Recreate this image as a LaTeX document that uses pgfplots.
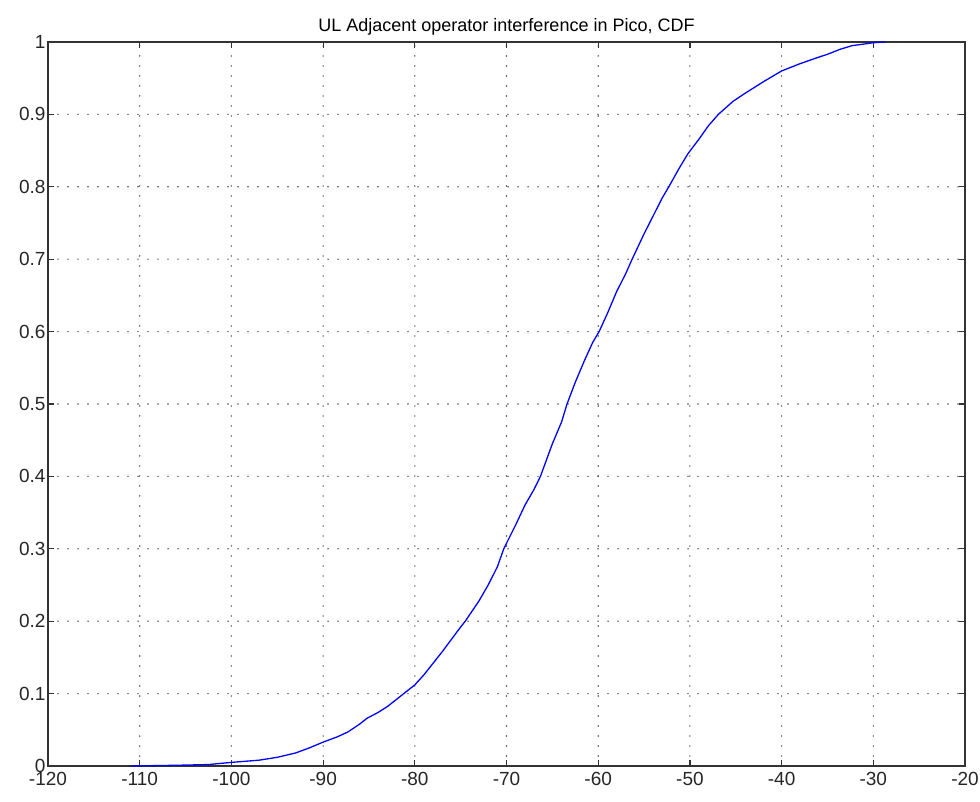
\documentclass[border=0pt]{standalone}
\usepackage{pgfplots}
\pgfplotsset{compat=1.18}
\usepackage{fontspec}
\setmainfont{Liberation Sans}
\begin{document}
\begin{tikzpicture}
\path[use as bounding box] (-48pt,-35pt) rectangle (932pt,766pt);
\begin{axis}[
  width=917pt, height=724pt, scale only axis,
  xmin=-120, xmax=-20, ymin=0, ymax=1,
  xtick={-120,-110,...,-20},
  ytick={0,0.1,...,1},
  yticklabels={0,0.1,0.2,0.3,0.4,0.5,0.6,0.7,0.8,0.9,1},
  tick align=inside, tick pos=both,
  major tick length=6pt,
  every tick/.style={black!80, line width=1.2pt},
  axis line style={black!80, line width=1.4pt},
  grid=major,
  major grid style={black!70, line width=1.6pt, line cap=round, dash pattern=on 0pt off 10pt},
  /pgf/number format/assume math mode=true,
  ticklabel style={font=\fontsize{19}{22}\selectfont, black!85},
  xticklabel style={yshift=-3pt},
  yticklabel style={xshift=1pt},
  title={UL Adjacent operator interference in Pico, CDF},
  title style={font=\fontsize{18}{22}\selectfont, yshift=-3pt},
]
\addplot[blue, line width=1.3pt] coordinates {
(-111,0) (-106,0.001) (-102.5,0.002) (-100,0.005) (-97,0.008) (-95,0.012) (-93,0.018)
(-91.5,0.025) (-90,0.033) (-88.5,0.04) (-87.3,0.047) (-86,0.058) (-85.2,0.066)
(-84,0.074) (-83,0.082) (-82,0.092) (-81.2,0.1) (-80,0.112) (-79,0.126) (-78,0.142)
(-77,0.158) (-76,0.175) (-75,0.192) (-74.5,0.2) (-73,0.228) (-72,0.25) (-71,0.275)
(-70.3,0.3) (-69,0.333) (-68,0.36) (-67,0.382) (-66.3,0.4) (-65,0.445) (-64,0.475)
(-63.4,0.5) (-62.5,0.53) (-61.5,0.56) (-60.6,0.585) (-59.9,0.6) (-59,0.625)
(-58,0.655) (-57,0.68) (-56.3,0.7) (-55,0.735) (-54,0.76) (-53,0.785) (-52.3,0.8)
(-51.2,0.825) (-50.2,0.846) (-49,0.866) (-48,0.884) (-46.9,0.9) (-45.3,0.918)
(-44,0.929) (-42,0.945) (-40,0.96) (-38,0.97) (-36.2,0.978) (-35,0.983)
(-33.6,0.99) (-32.3,0.995) (-31.1,0.997) (-30,0.999) (-28.7,1)
};
\end{axis}
\end{tikzpicture}
\end{document}
